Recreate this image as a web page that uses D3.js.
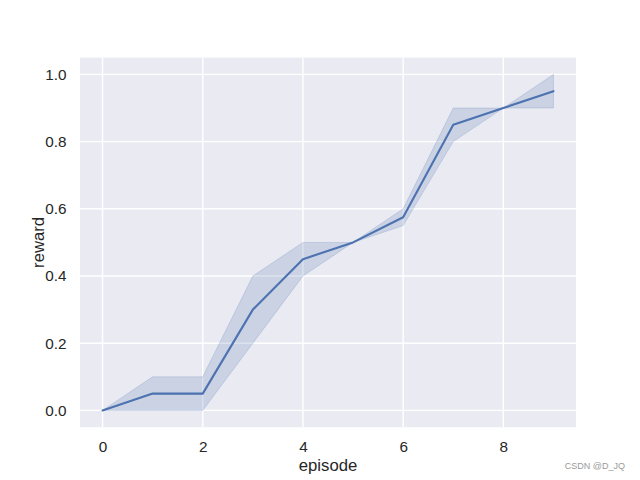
<!DOCTYPE html>
<html lang="en">
<head>
    <meta charset="UTF-8">
    <title>reward vs episode</title>
    <script src="https://d3js.org/d3.v7.min.js"></script>
    <style>
        body {
            margin: 0;
            padding: 0;
            background-color: #ffffff;
        }

        svg {
            display: block;
            font-family: Arial, "Liberation Sans", sans-serif;
        }

        .tick-label {
            font-size: 15.3px;
            fill: #262626;
        }

        .axis-title {
            font-size: 16.7px;
            fill: #262626;
        }
    </style>
</head>
<body>

<svg id="chart"></svg>

<script>
    const width = 640;
    const height = 480;
    const margin = { top: 57.6, right: 64, bottom: 52.8, left: 80 };

    // mean reward per episode and the band round it
    const episodes = [0, 1, 2, 3, 4, 5, 6, 7, 8, 9];
    const reward = [0, 0.05, 0.05, 0.3, 0.45, 0.5, 0.575, 0.85, 0.9, 0.95];
    const rewardLow = [0, 0, 0, 0.2, 0.4, 0.5, 0.55, 0.8, 0.9, 0.9];
    const rewardHigh = [0, 0.1, 0.1, 0.4, 0.5, 0.5, 0.6, 0.9, 0.9, 1.0];

    const xTicks = [0, 2, 4, 6, 8];
    const yTicks = [0, 0.2, 0.4, 0.6, 0.8, 1.0];

    const lineColor = "#4c72b0";

    const rows = episodes.map((e, i) => ({
        episode: e,
        mean: reward[i],
        low: rewardLow[i],
        high: rewardHigh[i]
    }));

    const svg = d3.select("#chart")
        .attr("width", width)
        .attr("height", height);

    const x = d3.scaleLinear()
        .domain([-0.45, 9.45])
        .range([margin.left, width - margin.right]);

    const y = d3.scaleLinear()
        .domain([-0.05, 1.05])
        .range([height - margin.bottom, margin.top]);

    // background
    svg.append("rect")
        .attr("x", margin.left)
        .attr("y", margin.top)
        .attr("width", width - margin.left - margin.right)
        .attr("height", height - margin.top - margin.bottom)
        .attr("fill", "#eaeaf2");

    // grid
    const grid = svg.append("g")
        .attr("stroke", "#ffffff")
        .attr("stroke-width", 1.4);

    grid.selectAll(".vgrid")
        .data(xTicks)
        .join("line")
        .attr("class", "vgrid")
        .attr("x1", d => x(d))
        .attr("x2", d => x(d))
        .attr("y1", margin.top)
        .attr("y2", height - margin.bottom);

    grid.selectAll(".hgrid")
        .data(yTicks)
        .join("line")
        .attr("class", "hgrid")
        .attr("x1", margin.left)
        .attr("x2", width - margin.right)
        .attr("y1", d => y(d))
        .attr("y2", d => y(d));

    // confidence band
    const area = d3.area()
        .x(d => x(d.episode))
        .y0(d => y(d.low))
        .y1(d => y(d.high));

    svg.append("path")
        .datum(rows)
        .attr("d", area)
        .attr("fill", lineColor)
        .attr("fill-opacity", 0.2)
        .attr("stroke", lineColor)
        .attr("stroke-opacity", 0.2)
        .attr("stroke-width", 1);

    // mean line
    const line = d3.line()
        .x(d => x(d.episode))
        .y(d => y(d.mean));

    svg.append("path")
        .datum(rows)
        .attr("d", line)
        .attr("fill", "none")
        .attr("stroke", lineColor)
        .attr("stroke-width", 2.1)
        .attr("stroke-linejoin", "round")
        .attr("stroke-linecap", "round");

    // axes (no tick marks, no domain line - darkgrid style)
    const xAxis = svg.append("g")
        .attr("transform", `translate(0,${height - margin.bottom})`)
        .call(d3.axisBottom(x).tickValues(xTicks).tickFormat(d3.format("d")).tickSize(0).tickPadding(13.5));

    const yAxis = svg.append("g")
        .attr("transform", `translate(${margin.left},0)`)
        .call(d3.axisLeft(y).tickValues(yTicks).tickFormat(d3.format(".1f")).tickSize(0).tickPadding(13.5));

    [xAxis, yAxis].forEach(a => {
        a.select(".domain").remove();
        a.selectAll("text")
            .attr("class", "tick-label")
            .attr("font-family", null)
            .attr("font-size", null)
            .attr("fill", null);
    });

    // axis titles
    svg.append("text")
        .attr("class", "axis-title")
        .attr("x", (margin.left + width - margin.right) / 2)
        .attr("y", 471)
        .attr("text-anchor", "middle")
        .text("episode");

    svg.append("text")
        .attr("class", "axis-title")
        .attr("transform", `translate(44,${(margin.top + height - margin.bottom) / 2}) rotate(-90)`)
        .attr("text-anchor", "middle")
        .text("reward");

    // watermark
    svg.append("text")
        .attr("x", 625)
        .attr("y", 469)
        .attr("text-anchor", "end")
        .style("font-size", "9px")
        .style("fill", "#9a9a9a")
        .text("CSDN @D_JQ");
</script>

</body>
</html>
